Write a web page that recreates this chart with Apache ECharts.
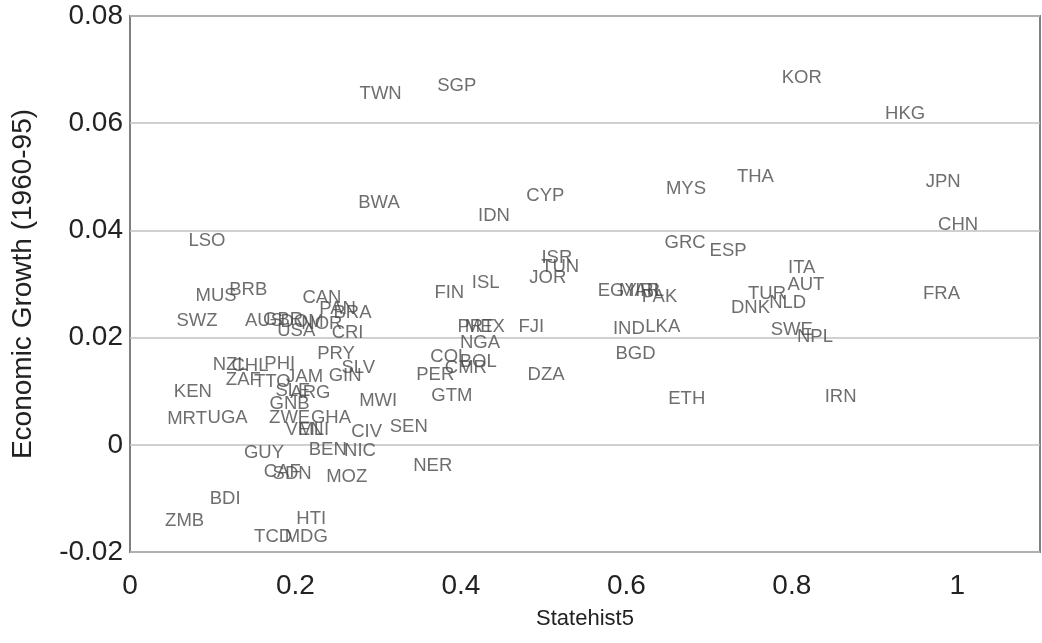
<!DOCTYPE html>
<html>
<head>
<meta charset="utf-8">
<script src="https://cdn.jsdelivr.net/npm/echarts@6/dist/echarts.min.js"></script>
<style>html,body{margin:0;padding:0;background:#fff}#c{width:1042px;height:643px}</style>
</head>
<body>
<div id="c"></div>
<script>
const countries = ["TWN","SGP","KOR","HKG","JPN","CHN","FRA","THA","MYS","BWA","CYP","IDN","LSO","GRC","ESP","ISR","TUN","JOR","ISL","FIN","PRT","MEX","FJI","NGA","COL","BOL","CMR","PER","GTM","DZA","EGY","MAR","IRL","PAK","IND","LKA","BGD","ETH","ITA","AUT","TUR","NLD","DNK","SWE","NPL","IRN","MUS","BRB","SWZ","CAN","PAN","BRA","AUS","GBR","DOM","NOR","USA","CRI","PRY","SLV","GIN","NZL","CHL","PHI","ZAF","TTO","JAM","SLE","ARG","GNB","ZWE","GHA","VEN","MLI","CIV","SEN","MWI","BEN","NIC","GUY","CAF","SDN","MOZ","NER","BDI","ZMB","HTI","TCD","MDG","KEN","MRT","UGA"];
const statehist5 = [0.303,0.395,0.812,0.937,0.983,1.001,0.981,0.756,0.672,0.301,0.502,0.440,0.093,0.671,0.723,0.516,0.520,0.505,0.430,0.386,0.418,0.429,0.485,0.423,0.386,0.421,0.406,0.369,0.389,0.503,0.589,0.616,0.628,0.640,0.603,0.644,0.611,0.673,0.812,0.817,0.770,0.795,0.750,0.800,0.828,0.859,0.104,0.143,0.081,0.232,0.251,0.269,0.162,0.185,0.208,0.232,0.201,0.263,0.249,0.276,0.260,0.121,0.145,0.181,0.137,0.172,0.211,0.197,0.218,0.193,0.193,0.243,0.211,0.222,0.286,0.337,0.300,0.239,0.278,0.162,0.184,0.196,0.262,0.366,0.115,0.066,0.219,0.173,0.213,0.076,0.069,0.118];
const growth = [0.0655,0.0670,0.0685,0.0618,0.0491,0.0410,0.0282,0.0500,0.0478,0.0451,0.0465,0.0427,0.0381,0.0377,0.0362,0.0349,0.0332,0.0312,0.0302,0.0284,0.0220,0.0220,0.0220,0.0190,0.0164,0.0155,0.0144,0.0131,0.0091,0.0131,0.0287,0.0287,0.0287,0.0276,0.0216,0.0220,0.0170,0.0086,0.0330,0.0299,0.0282,0.0265,0.0256,0.0215,0.0201,0.0090,0.0278,0.0289,0.0231,0.0274,0.0254,0.0246,0.0231,0.0233,0.0229,0.0226,0.0213,0.0209,0.0170,0.0144,0.0129,0.0149,0.0147,0.0151,0.0121,0.0118,0.0127,0.0101,0.0097,0.0076,0.0050,0.0050,0.0028,0.0028,0.0024,0.0034,0.0082,-0.0009,-0.0011,-0.0015,-0.0050,-0.0054,-0.0060,-0.0039,-0.0101,-0.0142,-0.0138,-0.0172,-0.0172,0.0099,0.0049,0.0050];
const xTicks = [0, 0.2, 0.4, 0.6, 0.8, 1];
const yTicks = [-0.02, 0, 0.02, 0.04, 0.06, 0.08];

const data = countries.map((n, i) => ({ name: n, value: [statehist5[i], growth[i]] }));
const font = 'Liberation Sans, Arial, sans-serif';
const chart = echarts.init(document.getElementById('c'));
chart.setOption({
  animation: false,
  backgroundColor: '#fff',
  grid: { left: 130, right: 2, top: 16, bottom: 91, show: true, borderColor: '#808080', borderWidth: 2, backgroundColor: '#fff', containLabel: false, outerBoundsMode: 'none' },
  xAxis: {
    type: 'value', min: 0, max: 1.1, interval: 0.2,
    name: 'Statehist5', nameLocation: 'middle', nameGap: 56,
    nameTextStyle: { fontFamily: font, fontSize: 22, color: '#222' },
    axisLine: { show: false }, axisTick: { show: false }, splitLine: { show: false },
    axisLabel: { fontFamily: font, fontSize: 28, color: '#222', margin: 20, showMaxLabel: false,
      formatter: v => xTicks.some(t => Math.abs(t - v) < 1e-9) ? String(+v.toFixed(1)) : '' }
  },
  yAxis: {
    type: 'value', min: -0.02, max: 0.08, interval: 0.02,
    name: 'Economic Growth (1960-95)', nameLocation: 'middle', nameGap: 93,
    nameTextStyle: { fontFamily: font, fontSize: 28, color: '#222' },
    axisLine: { show: false }, axisTick: { show: false },
    splitLine: { show: true, lineStyle: { color: '#c0c0c0', width: 1.5 } },
    axisLabel: { fontFamily: font, fontSize: 28, color: '#222', margin: 7,
      formatter: v => { const r = Math.round(v * 100) / 100; return yTicks.some(t => Math.abs(t - r) < 1e-9) ? (r === 0 ? '0' : r.toFixed(2)) : ''; } }
  },
  series: [{
    type: 'scatter', data: data, symbolSize: 1,
    itemStyle: { color: 'rgba(0,0,0,0)' },
    label: { show: true, position: 'inside', formatter: p => p.name, fontFamily: font, fontSize: 18.5, color: '#4a4a4a', align: 'center', verticalAlign: 'middle' },
    labelLayout: { hideOverlap: false }
  }]
});
</script>
</body>
</html>
